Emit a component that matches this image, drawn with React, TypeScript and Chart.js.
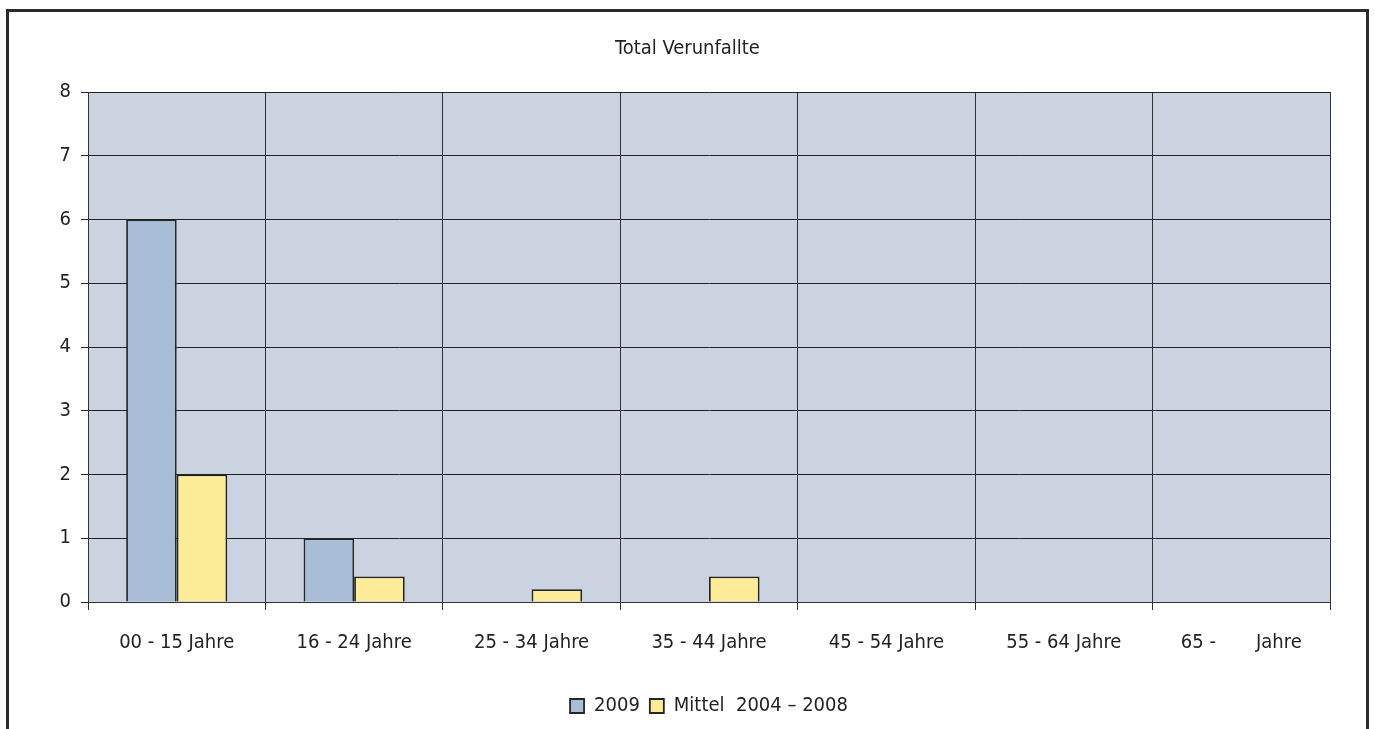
import React, { useEffect, useRef } from "react";
import { Chart, registerables } from "chart.js";

Chart.register(...registerables);

const categories = [
  "00 - 15 Jahre",
  "16 - 24 Jahre",
  "25 - 34 Jahre",
  "35 - 44 Jahre",
  "45 - 54 Jahre",
  "55 - 64 Jahre",
  "65 -       Jahre",
];
const series2009 = [6, 1, 0, 0, 0, 0, 0];
const seriesMittel = [2, 0.4, 0.2, 0.4, 0, 0, 0];
const label2009 = "2009";
const labelMittel = "Mittel  2004 – 2008";
const titleText = "Total Verunfallte";

const FONT = "'Liberation Sans Narrow', 'DejaVu Sans Condensed', sans-serif";

const bgPlugin = {
  id: "bgPlugin",
  beforeDraw(chart: any) {
    const { ctx, chartArea } = chart;
    ctx.save();
    ctx.fillStyle = "#ffffff";
    ctx.fillRect(0, 0, chart.width, chart.height);
    ctx.fillStyle = "#CBD2E0";
    ctx.fillRect(chartArea.left, chartArea.top, chartArea.right - chartArea.left, chartArea.bottom - chartArea.top);
    ctx.restore();
  },
  afterDraw(chart: any) {
    const { ctx } = chart;
    ctx.save();
    ctx.strokeStyle = "#2b2b2b";
    ctx.lineWidth = 3;
    ctx.beginPath();
    ctx.moveTo(7.5, chart.height + 5);
    ctx.lineTo(7.5, 10.5);
    ctx.lineTo(1367.5, 10.5);
    ctx.lineTo(1367.5, chart.height + 5);
    ctx.stroke();
    ctx.restore();
  },
};

export default function App() {
  const ref = useRef<HTMLCanvasElement>(null);
  useEffect(() => {
    if (!ref.current) return;
    const chart = new Chart(ref.current, {
      type: "bar",
      data: {
        labels: categories,
        datasets: [
          {
            label: label2009,
            data: series2009,
            backgroundColor: "#A9BDD7",
            borderColor: "#262626",
            borderWidth: 1.8,
            categoryPercentage: 0.57,
            barPercentage: 1,
          },
          {
            label: labelMittel,
            data: seriesMittel,
            backgroundColor: "#FCEC98",
            borderColor: "#262626",
            borderWidth: 1.8,
            categoryPercentage: 0.57,
            barPercentage: 1,
          },
        ],
      },
      options: {
        animation: false,
        responsive: false,
        maintainAspectRatio: false,
        layout: { padding: { left: 0, right: 0, top: 0, bottom: 3 } },
        plugins: {
          title: {
            display: true,
            text: titleText,
            color: "#222",
            font: { family: FONT, size: 20, weight: "normal" },
            padding: { top: 37, bottom: 31 },
          },
          legend: {
            position: "bottom",
            fullSize: false,
            labels: {
              color: "#222",
              font: { family: FONT, size: 20 },
              boxWidth: 14,
              boxHeight: 14,
              padding: 10,
            },
          },
          tooltip: { enabled: false },
        },
        scales: {
          x: {
            offset: true,
            grid: {
              offset: true,
              color: "#333",
              lineWidth: 1,
              tickLength: 8,
              drawTicks: true,
            },
            border: { color: "#333", width: 1 },
            ticks: {
              color: "#222",
              font: { family: FONT, size: 20 },
              padding: 21,
              maxRotation: 0,
              autoSkip: false,
            },
            afterFit(scale: any) {
              scale.height = 84;
            },
          },
          y: {
            min: 0,
            max: 8,
            ticks: {
              stepSize: 1,
              color: "#222",
              font: { family: FONT, size: 20 },
              padding: 10,
            },
            grid: { color: "#222", lineWidth: 1, tickLength: 7 },
            border: { color: "#333", width: 1 },
            afterFit(scale: any) {
              scale.width = 88;
            },
          },
          yRight: {
            position: "right",
            display: true,
            grid: { display: false, drawTicks: false },
            ticks: { display: false },
            border: { display: false },
            afterFit(scale: any) {
              scale.width = 45;
            },
          },
        },
      },
      plugins: [bgPlugin],
    } as any);
    return () => chart.destroy();
  }, []);
  return (
    <div style={{ position: "absolute", left: 0, top: 0, width: 1375, height: 729 }}>
      <canvas ref={ref} width={1375} height={729} style={{ display: "block" }} />
    </div>
  );
}
